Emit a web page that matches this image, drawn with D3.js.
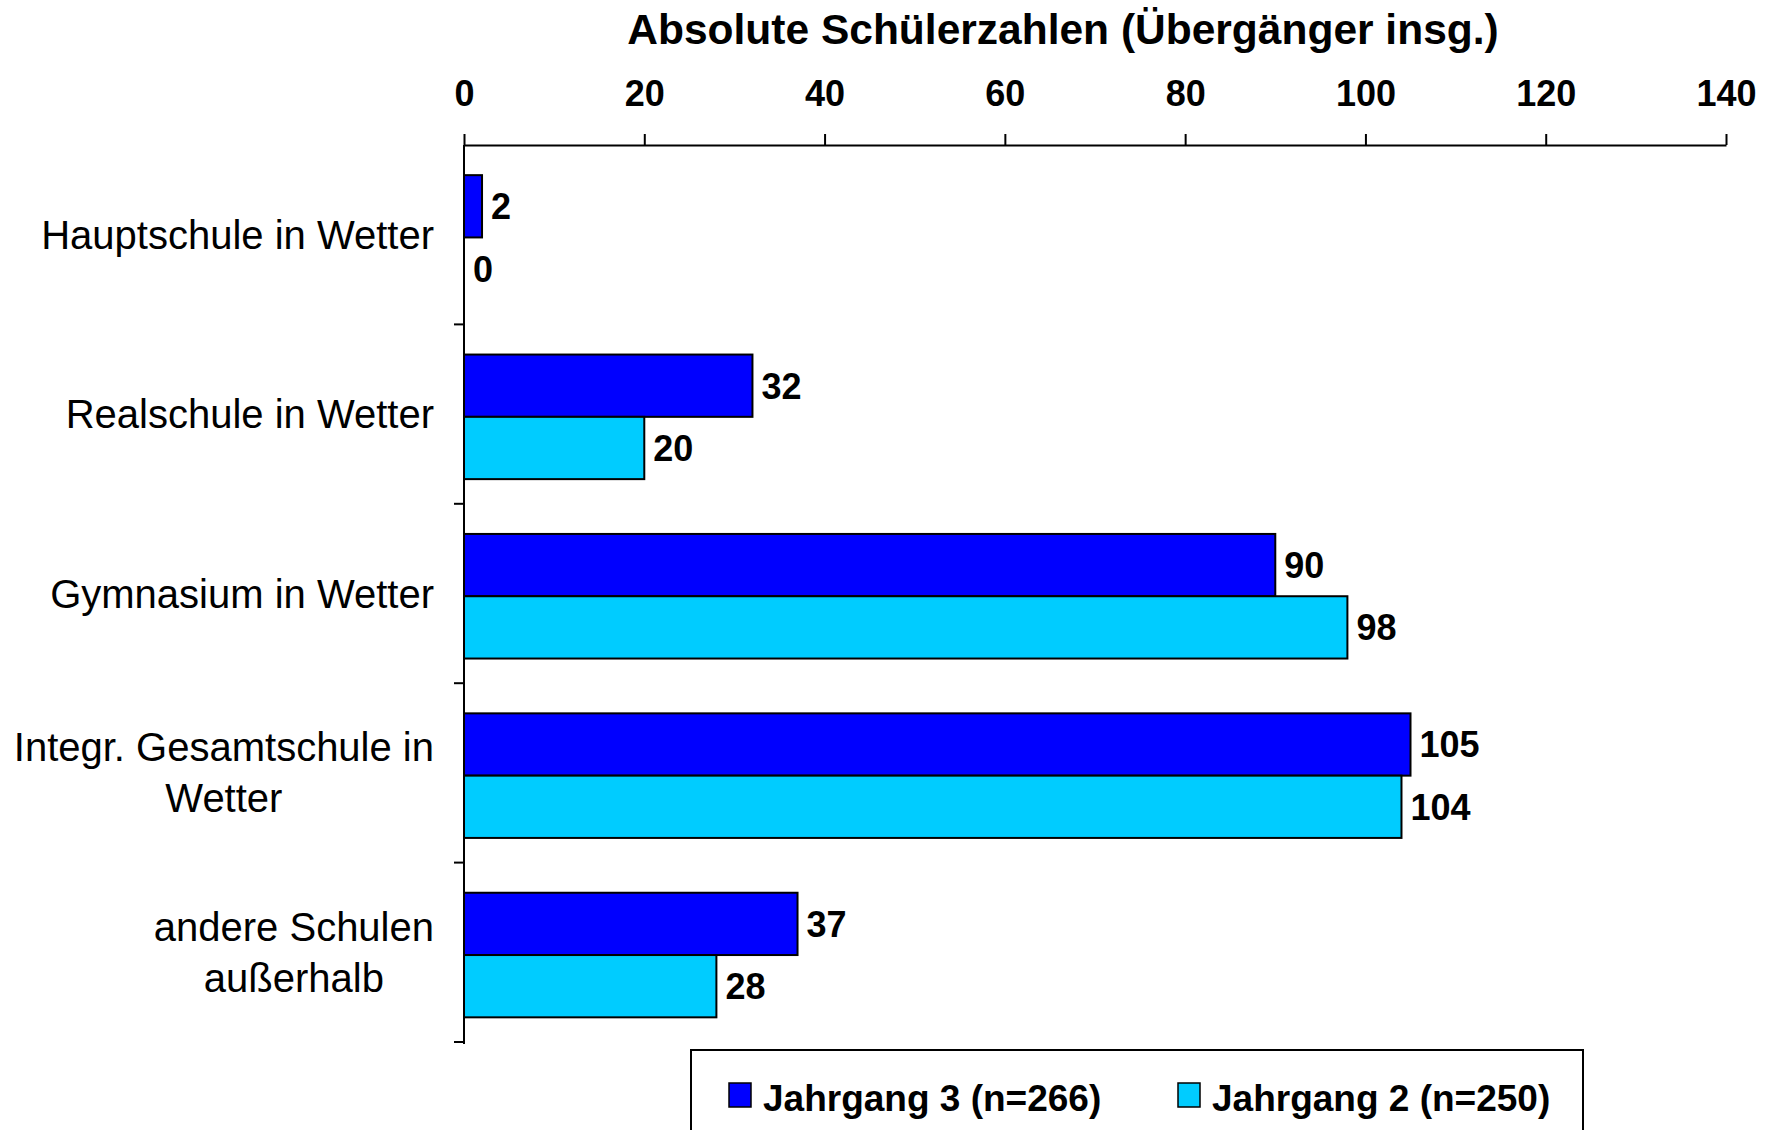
<!DOCTYPE html>
<html>
<head>
<meta charset="utf-8">
<script src="https://cdn.jsdelivr.net/npm/d3@7"></script>
<style>
  body { margin: 0; background: #fff; }
  text { font-family: "Liberation Sans", Arial, sans-serif; }
</style>
</head>
<body>
<svg id="chart" width="1780" height="1130"></svg>
<script>
// data
var categories = [
  ["Hauptschule in Wetter"],
  ["Realschule in Wetter"],
  ["Gymnasium in Wetter"],
  ["Integr. Gesamtschule in", "Wetter"],
  ["andere Schulen", "außerhalb"]
];
var seriesNames = ["Jahrgang 3 (n=266)", "Jahrgang 2 (n=250)"];
var jahrgang3 = [2, 32, 90, 105, 37];
var jahrgang2 = [0, 20, 98, 104, 28];
var xTicks = [0, 20, 40, 60, 80, 100, 120, 140];
var titleText = "Absolute Schülerzahlen (Übergänger insg.)";

var colors = ["#0000FF", "#00CCFF"];

var svg = d3.select("#chart");

// plot area (window.top is reserved, so prefixed names)
var plotLeft = 464, plotRight = 1726, plotTop = 145, plotBottom = 1042;

var x = d3.scaleLinear().domain([0, 140]).range([plotLeft, plotRight]);
var catIdx = d3.range(categories.length);
var y0 = d3.scaleBand().domain(catIdx).range([plotTop, plotBottom]).padding(0);
var y1 = d3.scaleBand().domain([0, 1]).range([0, y0.bandwidth()])
           .paddingInner(0).paddingOuter(0.44).align(0.55);

// title
svg.append("text")
   .attr("x", 1063)
   .attr("y", 44)
   .attr("text-anchor", "middle")
   .attr("font-size", 42.5)
   .attr("font-weight", "bold")
   .text(titleText);

// top axis
var xAxis = svg.append("g")
   .attr("transform", "translate(0," + plotTop + ")")
   .call(d3.axisTop(x).tickValues(xTicks).tickSize(11).tickPadding(28).tickSizeOuter(0));
xAxis.select(".domain").attr("stroke", "#000").attr("stroke-width", 2);
xAxis.selectAll(".tick line").attr("stroke", "#000").attr("stroke-width", 2);
xAxis.selectAll(".tick text")
     .attr("font-family", "Liberation Sans, Arial, sans-serif")
     .attr("font-size", 36)
     .attr("font-weight", "bold")
     .attr("fill", "#000");

// left axis line + ticks at category edges
svg.append("line")
   .attr("x1", x(0)).attr("x2", x(0))
   .attr("y1", plotTop).attr("y2", plotBottom + 2)
   .attr("stroke", "#000").attr("stroke-width", 2);

var edges = catIdx.map(function(i) { return y0(i) + y0.bandwidth(); });
svg.selectAll("line.ytick")
   .data(edges)
   .enter().append("line")
   .attr("class", "ytick")
   .attr("x1", x(0) - 10).attr("x2", x(0))
   .attr("y1", function(d) { return d; })
   .attr("y2", function(d) { return d; })
   .attr("stroke", "#000").attr("stroke-width", 2);

// category labels: block right-aligned at labelRight, lines centred in block
var lineH = 51;
var labelRight = 434;
catIdx.forEach(function(i) {
  var lines = categories[i];
  var cy = y0(i) + y0.bandwidth() / 2;
  var t = svg.append("text")
     .attr("font-size", 40)
     .attr("fill", "#000")
     .attr("text-anchor", "middle");
  var spans = lines.map(function(s, k) {
    return t.append("tspan")
     .attr("y", cy + (k - (lines.length - 1) / 2) * lineH)
     .attr("dy", "0.35em")
     .text(s);
  });
  var maxW = d3.max(spans, function(sp) { return sp.node().getComputedTextLength(); });
  spans.forEach(function(sp) { sp.attr("x", labelRight - maxW / 2); });
});

// bars
var series = [jahrgang3, jahrgang2];
series.forEach(function(vals, s) {
  var g = svg.append("g");
  g.selectAll("rect")
   .data(vals)
   .enter().append("rect")
   .attr("x", x(0))
   .attr("y", function(d, i) { return y0(i) + y1(s); })
   .attr("width", function(d) { return x(d) - x(0); })
   .attr("height", y1.bandwidth())
   .attr("fill", colors[s])
   .attr("stroke", function(d) { return d > 0 ? "#000" : "none"; })
   .attr("stroke-width", 2);

  g.selectAll("text")
   .data(vals)
   .enter().append("text")
   .attr("x", function(d) { return x(d) + 9; })
   .attr("y", function(d, i) { return y0(i) + y1(s) + y1.bandwidth() / 2; })
   .attr("dy", "0.36em")
   .attr("font-size", 36)
   .attr("font-weight", "bold")
   .attr("fill", "#000")
   .text(function(d) { return d; });
});

// legend
var legend = svg.append("g");
legend.append("rect")
   .attr("x", 691).attr("y", 1050)
   .attr("width", 892).attr("height", 120)
   .attr("fill", "#fff")
   .attr("stroke", "#000").attr("stroke-width", 2);

var legX = [729, 1178];
seriesNames.forEach(function(name, s) {
  legend.append("rect")
     .attr("x", legX[s]).attr("y", 1083)
     .attr("width", 22).attr("height", 24)
     .attr("fill", colors[s])
     .attr("stroke", "#000").attr("stroke-width", 1.5);
  legend.append("text")
     .attr("x", legX[s] + 34)
     .attr("y", 1111)
     .attr("font-size", 37)
     .attr("font-weight", "bold")
     .attr("fill", "#000")
     .text(name);
});
</script>
</body>
</html>
